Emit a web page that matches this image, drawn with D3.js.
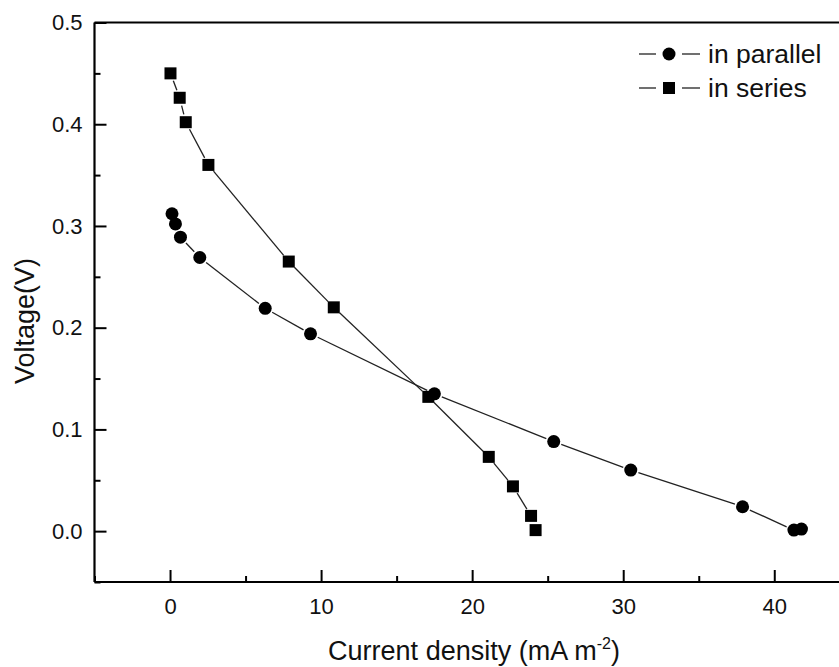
<!DOCTYPE html>
<html>
<head>
<meta charset="utf-8">
<script src="https://cdn.jsdelivr.net/npm/d3@7"></script>
<style>
  body { margin: 0; background: #fff; }
  svg { display: block; font-family: Arial, "Liberation Sans", sans-serif; }
</style>
</head>
<body>
<svg class="graphe" width="839" height="667"></svg>
<script>

//DONNEES-------------------------------------------------
//-------------------------------------------------------

let parallelX = [0.13, 0.36, 0.69, 1.97, 6.3, 9.3, 17.5, 25.4, 30.5, 37.9, 41.3, 41.8];
let parallelY = [0.312, 0.302, 0.289, 0.269, 0.219, 0.194, 0.135, 0.088, 0.060, 0.024, 0.001, 0.002];

let seriesX = [0.03, 0.64, 1.04, 2.54, 7.86, 10.84, 17.1, 21.1, 22.7, 23.9, 24.2];
let seriesY = [0.450, 0.426, 0.402, 0.360, 0.265, 0.220, 0.132, 0.073, 0.044, 0.015, 0.001];

let xTicks = [0, 10, 20, 30, 40];
let xMinor = [-5, 5, 15, 25, 35, 45];
let yTicks = [0.0, 0.1, 0.2, 0.3, 0.4, 0.5];
let yMinor = [-0.05, 0.05, 0.15, 0.25, 0.35, 0.45];

let legendLabels = ["in parallel", "in series"];


//GRAPHIQUE-----------------------------------------------
//-------------------------------------------------------

let svg = d3.select(".graphe");

let mLeft = 94.5, mRight = 849.8, mTop = 22.5, mBottom = 582;

let x = d3.scaleLinear().domain([-5, 45]).range([mLeft, mRight]);
let y = d3.scaleLinear().domain([-0.05, 0.5]).range([mBottom, mTop]);

//Axe x (ticks vers l'intérieur)
let gx = svg.append("g")
    .attr("transform", "translate(0," + mBottom + ")")
    .call(d3.axisBottom(x).tickValues(xTicks).tickSize(-12).tickPadding(16).tickFormat(d3.format("d")));

svg.append("g")
    .attr("transform", "translate(0," + mBottom + ")")
    .call(d3.axisBottom(x).tickValues(xMinor).tickSize(-6).tickFormat(""))
    .select(".domain").remove();

//Axe y
let gy = svg.append("g")
    .attr("transform", "translate(" + mLeft + ",0)")
    .call(d3.axisLeft(y).tickValues(yTicks).tickSize(-12).tickPadding(12).tickFormat(d3.format(".1f")));

svg.append("g")
    .attr("transform", "translate(" + mLeft + ",0)")
    .call(d3.axisLeft(y).tickValues(yMinor).tickSize(-6).tickFormat(""))
    .select(".domain").remove();

svg.selectAll(".domain").attr("stroke-width", 2.2);
svg.selectAll(".tick line").attr("stroke-width", 2);
svg.selectAll(".tick text").attr("font-size", 22).attr("fill", "#111");
gx.select(".domain").attr("d", "M" + mLeft + ",0H" + mRight);
gy.select(".domain").attr("d", "M0," + mBottom + "V" + mTop);

//Cadre du haut
svg.append("line")
    .attr("x1", mLeft).attr("x2", mRight)
    .attr("y1", mTop).attr("y2", mTop)
    .attr("stroke", "#000").attr("stroke-width", 2.2);

//Titres des axes
let xTitle = svg.append("text")
    .attr("x", 474).attr("y", 660)
    .attr("text-anchor", "middle")
    .attr("font-size", 27)
    .attr("fill", "#111");
xTitle.append("tspan").text("Current density (mA m");
xTitle.append("tspan").attr("dy", -11).attr("font-size", 16).text("-2");
xTitle.append("tspan").attr("dy", 11).text(")");

svg.append("text")
    .attr("transform", "translate(34,321) rotate(-90)")
    .attr("text-anchor", "middle")
    .attr("font-size", 27)
    .attr("fill", "#111")
    .text("Voltage(V)");


//Lignes avec un espace autour des symboles
let gap = 8;
let segments = function(xs, ys) {
  let out = [];
  for (let i = 0; i < xs.length - 1; i++) {
    let x1 = x(xs[i]), y1 = y(ys[i]), x2 = x(xs[i + 1]), y2 = y(ys[i + 1]);
    let len = Math.hypot(x2 - x1, y2 - y1);
    if (len <= 2 * gap + 1) continue;
    let ux = (x2 - x1) / len, uy = (y2 - y1) / len;
    out.push([x1 + ux * gap, y1 + uy * gap, x2 - ux * gap, y2 - uy * gap]);
  }
  return out;
};

let drawSegments = function(xs, ys) {
  svg.append("g").selectAll("line")
    .data(segments(xs, ys))
    .enter().append("line")
      .attr("x1", d => d[0]).attr("y1", d => d[1])
      .attr("x2", d => d[2]).attr("y2", d => d[3])
      .attr("stroke", "#222").attr("stroke-width", 1.3);
};

drawSegments(parallelX, parallelY);
drawSegments(seriesX, seriesY);

let parallelData = parallelX.map((v, i) => [v, parallelY[i]]);
let seriesData = seriesX.map((v, i) => [v, seriesY[i]]);

svg.append("g").selectAll("circle")
  .data(parallelData)
  .enter().append("circle")
    .attr("cx", d => x(d[0]))
    .attr("cy", d => y(d[1]))
    .attr("r", 6.5)
    .attr("fill", "#000");

svg.append("g").selectAll("rect")
  .data(seriesData)
  .enter().append("rect")
    .attr("x", d => x(d[0]) - 6)
    .attr("y", d => y(d[1]) - 6)
    .attr("width", 12)
    .attr("height", 12)
    .attr("fill", "#000");


//Légende
let leg = svg.append("g");
legendLabels.forEach(function(lab, i) {
  let cy = 54 + i * 34;
  leg.append("line").attr("x1", 639).attr("x2", 656).attr("y1", cy).attr("y2", cy)
    .attr("stroke", "#222").attr("stroke-width", 1.3);
  leg.append("line").attr("x1", 682).attr("x2", 700).attr("y1", cy).attr("y2", cy)
    .attr("stroke", "#222").attr("stroke-width", 1.3);
  if (i === 0) {
    leg.append("circle").attr("cx", 669).attr("cy", cy).attr("r", 6.5).attr("fill", "#000");
  } else {
    leg.append("rect").attr("x", 663).attr("y", cy - 6).attr("width", 12).attr("height", 12).attr("fill", "#000");
  }
  leg.append("text").attr("x", 708).attr("y", cy + 9)
    .attr("font-size", 26.5).attr("fill", "#111").text(lab);
});

</script>
</body>
</html>
